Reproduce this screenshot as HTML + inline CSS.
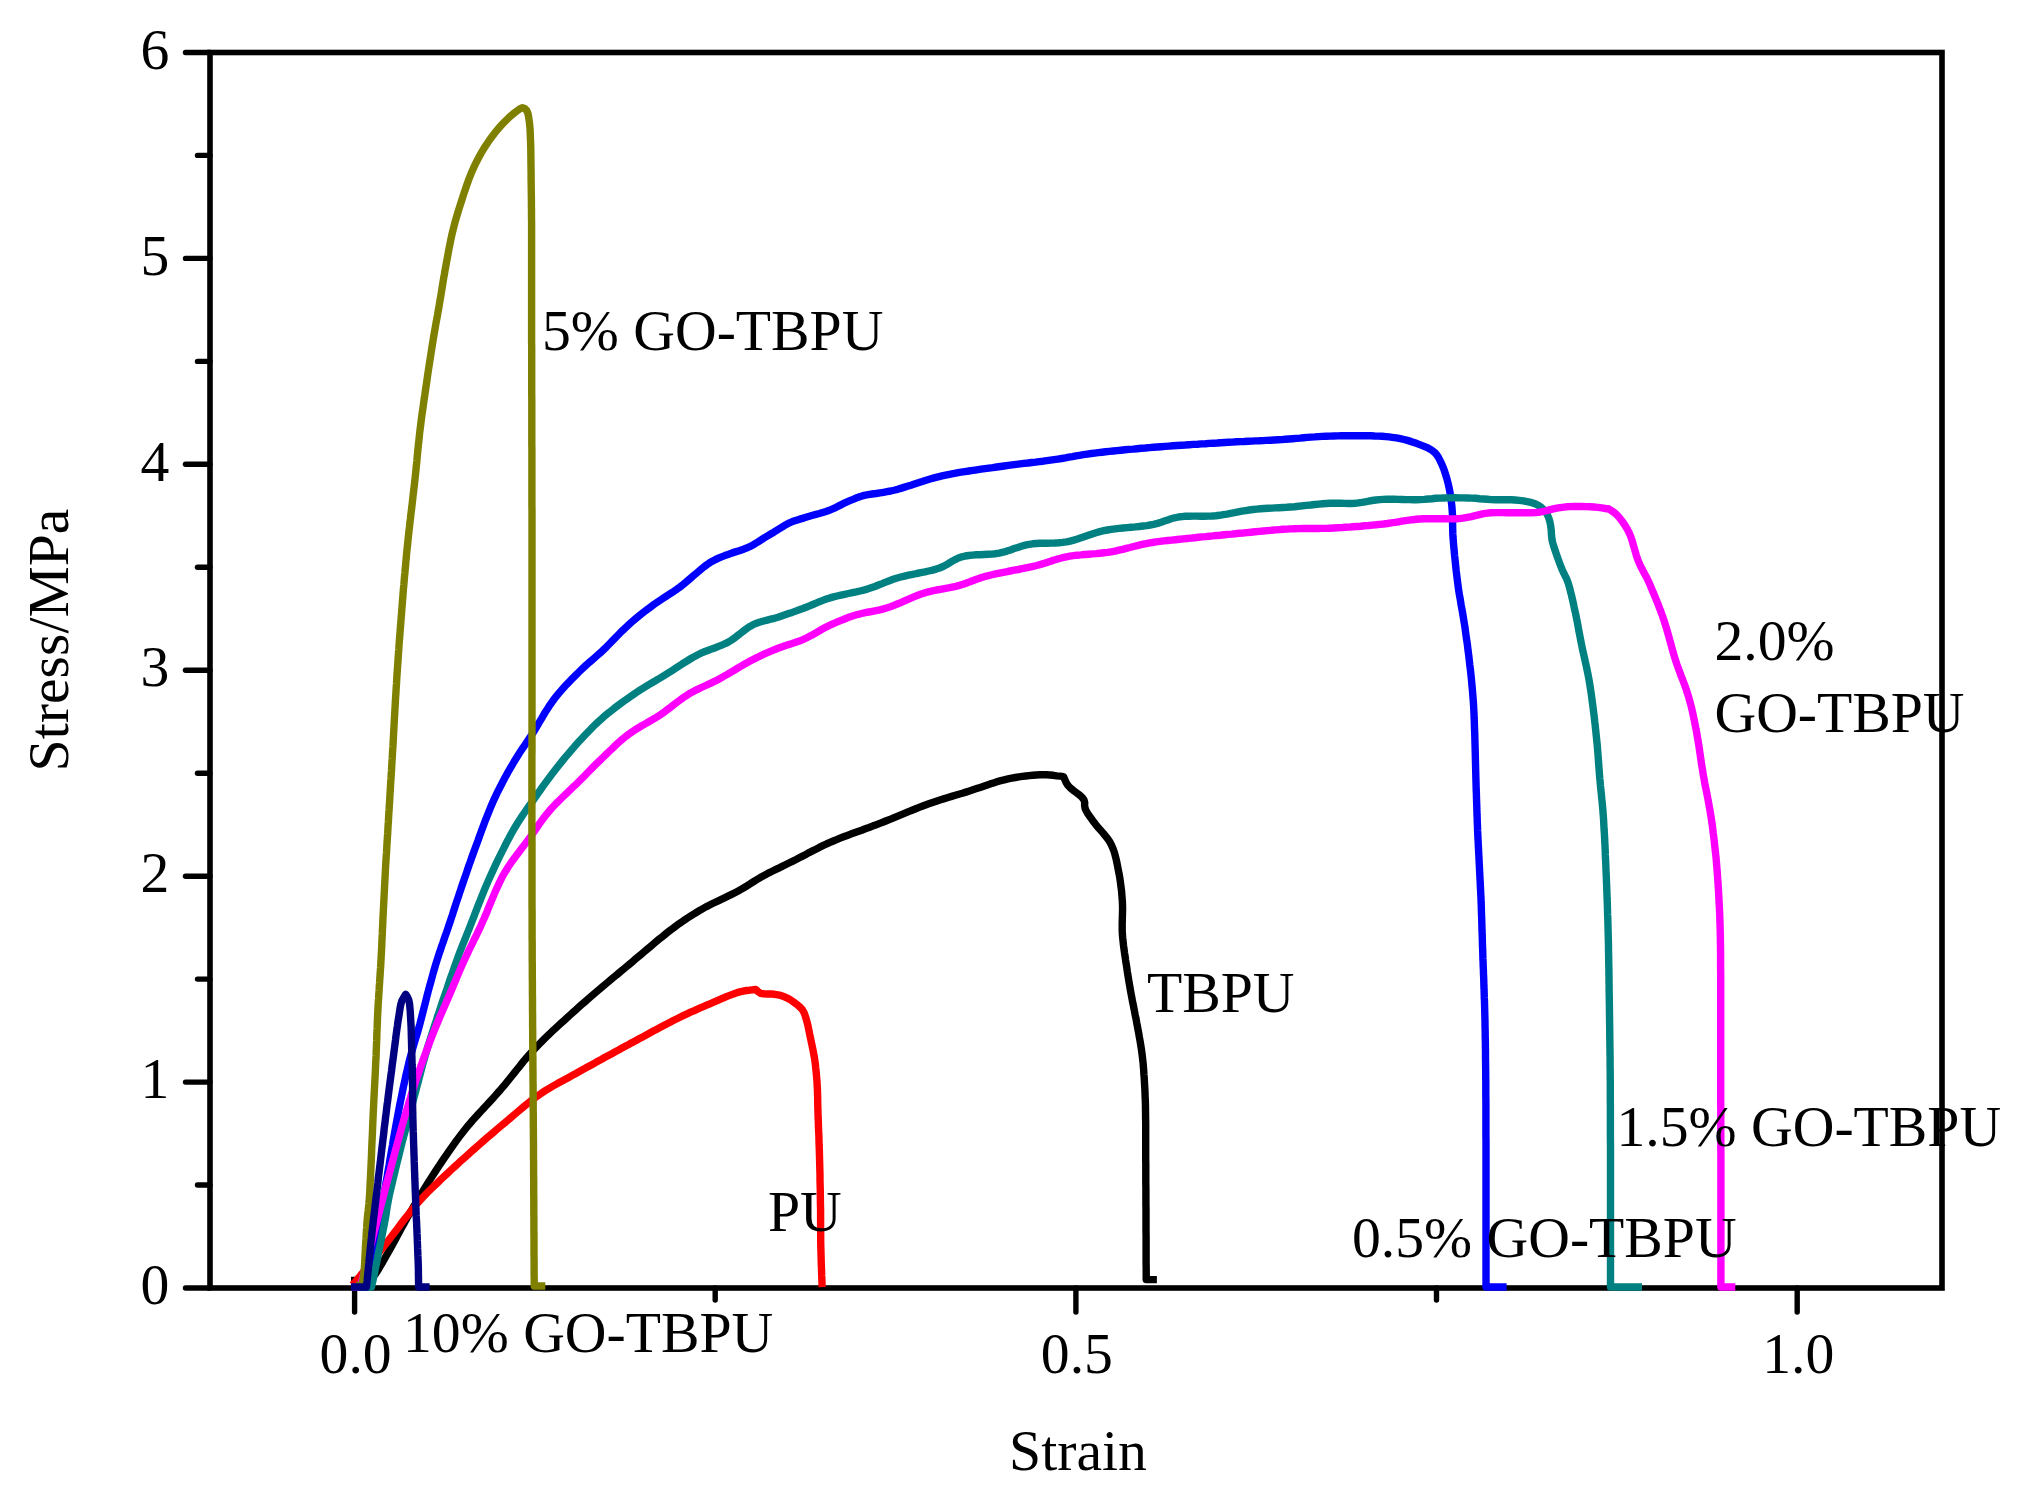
<!DOCTYPE html>
<html><head><meta charset="utf-8"><title>Stress-Strain</title>
<style>
html,body{margin:0;padding:0;background:#fff;}
body{width:2024px;height:1507px;overflow:hidden;}
svg{display:block;}
svg text{font-family:"Liberation Serif",serif;font-size:57.7px;fill:#000;}
</style></head><body>
<svg width="2024" height="1507" viewBox="0 0 2024 1507">
<rect width="2024" height="1507" fill="#fff"/>
<g fill="none" stroke="#000" stroke-width="5.4" stroke-linecap="round">
<line x1="185.5" y1="1288.0" x2="210.0" y2="1288.0"/>
<line x1="185.5" y1="1082.1" x2="210.0" y2="1082.1"/>
<line x1="185.5" y1="876.2" x2="210.0" y2="876.2"/>
<line x1="185.5" y1="670.2" x2="210.0" y2="670.2"/>
<line x1="185.5" y1="464.3" x2="210.0" y2="464.3"/>
<line x1="185.5" y1="258.4" x2="210.0" y2="258.4"/>
<line x1="185.5" y1="52.5" x2="210.0" y2="52.5"/>
<line x1="197.5" y1="1185.0" x2="210.0" y2="1185.0"/>
<line x1="197.5" y1="979.1" x2="210.0" y2="979.1"/>
<line x1="197.5" y1="773.2" x2="210.0" y2="773.2"/>
<line x1="197.5" y1="567.3" x2="210.0" y2="567.3"/>
<line x1="197.5" y1="361.4" x2="210.0" y2="361.4"/>
<line x1="197.5" y1="155.4" x2="210.0" y2="155.4"/>
<line x1="354.6" y1="1288.0" x2="354.6" y2="1312.0"/>
<line x1="1075.9" y1="1288.0" x2="1075.9" y2="1312.0"/>
<line x1="1797.2" y1="1288.0" x2="1797.2" y2="1312.0"/>
<line x1="715.2" y1="1288.0" x2="715.2" y2="1300.0"/>
<line x1="1436.5" y1="1288.0" x2="1436.5" y2="1300.0"/>
</g>
<rect x="210.0" y="52.5" width="1732.0" height="1235.5" fill="none" stroke="#000" stroke-width="5.6"/>
<g fill="none" stroke-width="7.4" stroke-linejoin="round" stroke-linecap="butt">
<path d="M351.0 1280.5 L370.0 1280.5 L371.9 1278.3 L373.8 1276.1 L376.1 1273.0 L377.4 1271.0 L379.0 1268.4 L380.7 1265.5 L382.6 1262.3 L384.6 1258.7 L386.7 1255.0 L388.9 1251.1 L391.1 1247.1 L393.3 1243.1 L395.5 1239.1 L397.6 1235.3 L399.6 1231.6 L401.4 1228.1 L403.2 1225.0 L404.7 1222.2 L406.0 1219.9 L407.8 1216.6 L409.3 1214.1 L410.7 1211.6 L412.5 1208.5 L414.0 1206.0 L415.7 1203.2 L417.5 1200.1 L419.5 1196.8 L421.6 1193.3 L423.8 1189.7 L426.1 1186.0 L428.4 1182.3 L430.7 1178.6 L433.1 1174.9 L435.4 1171.4 L437.6 1168.0 L439.8 1164.7 L442.0 1161.4 L444.2 1158.1 L446.5 1154.8 L448.7 1151.6 L451.0 1148.3 L453.3 1145.1 L455.6 1141.8 L458.0 1138.6 L460.4 1135.4 L462.9 1132.2 L465.4 1129.0 L467.7 1126.2 L470.1 1123.3 L472.5 1120.5 L475.0 1117.8 L477.5 1115.0 L480.0 1112.2 L482.6 1109.5 L485.1 1106.7 L487.7 1104.0 L490.2 1101.2 L492.8 1098.4 L495.3 1095.6 L497.8 1092.8 L500.3 1090.0 L502.7 1087.1 L505.1 1084.3 L507.5 1081.4 L509.8 1078.5 L512.2 1075.5 L514.5 1072.6 L516.8 1069.7 L519.2 1066.8 L521.5 1063.9 L523.9 1060.9 L526.4 1058.0 L528.9 1055.1 L531.5 1052.3 L534.1 1049.4 L536.7 1046.7 L539.3 1044.0 L541.9 1041.4 L544.6 1038.7 L547.3 1036.0 L550.1 1033.4 L552.9 1030.7 L555.7 1028.1 L558.6 1025.4 L561.5 1022.8 L564.4 1020.2 L567.3 1017.6 L570.2 1014.9 L573.1 1012.3 L576.0 1009.7 L578.9 1007.1 L581.7 1004.6 L584.6 1002.1 L587.5 999.5 L590.4 997.0 L593.3 994.5 L596.2 992.0 L599.2 989.5 L602.1 987.0 L605.1 984.5 L608.1 982.0 L611.0 979.5 L614.0 977.0 L617.0 974.6 L619.9 972.1 L622.9 969.7 L625.8 967.2 L628.7 964.8 L631.7 962.3 L634.7 959.7 L637.8 957.2 L640.9 954.6 L643.9 952.0 L647.0 949.4 L650.1 946.8 L653.1 944.2 L656.1 941.7 L659.1 939.2 L662.1 936.8 L665.0 934.5 L667.8 932.2 L670.6 930.0 L673.4 928.0 L676.0 926.0 L679.3 923.6 L682.4 921.5 L685.4 919.4 L688.3 917.5 L691.2 915.6 L694.1 913.8 L697.1 912.0 L700.1 910.2 L703.3 908.4 L706.6 906.6 L710.1 904.8 L713.6 903.0 L717.2 901.3 L720.8 899.6 L724.5 897.9 L728.0 896.2 L731.6 894.4 L734.9 892.7 L738.2 891.0 L741.5 889.1 L744.7 887.2 L747.8 885.3 L750.8 883.4 L753.8 881.5 L756.8 879.7 L759.9 877.8 L763.1 876.0 L766.3 874.3 L769.4 872.6 L772.7 871.0 L775.9 869.4 L779.3 867.8 L782.6 866.2 L786.0 864.5 L789.4 862.8 L792.9 861.1 L796.1 859.5 L799.3 857.8 L802.6 856.1 L805.8 854.4 L809.1 852.6 L812.5 850.9 L815.9 849.2 L819.3 847.4 L822.8 845.7 L826.4 844.0 L830.0 842.4 L833.3 841.0 L836.7 839.6 L840.1 838.2 L843.6 836.8 L847.2 835.5 L850.8 834.1 L854.4 832.8 L858.0 831.5 L861.7 830.2 L865.3 828.8 L869.0 827.5 L872.6 826.1 L876.2 824.8 L879.8 823.4 L883.4 822.0 L887.0 820.5 L890.6 819.1 L894.2 817.6 L897.8 816.1 L901.4 814.6 L905.0 813.1 L908.5 811.6 L912.1 810.2 L915.7 808.8 L919.2 807.4 L922.7 806.0 L926.1 804.7 L929.5 803.5 L933.3 802.2 L937.0 800.9 L940.7 799.7 L944.4 798.6 L948.0 797.5 L951.7 796.4 L955.3 795.3 L958.8 794.2 L962.4 793.2 L965.9 792.1 L969.4 791.0 L973.0 789.8 L976.6 788.6 L980.2 787.4 L983.7 786.2 L987.3 785.0 L990.8 783.8 L994.2 782.7 L997.6 781.6 L1000.9 780.6 L1004.2 779.8 L1008.0 778.9 L1011.7 778.2 L1015.4 777.5 L1018.9 776.9 L1022.4 776.4 L1025.8 776.0 L1029.1 775.6 L1032.8 775.2 L1036.3 775.0 L1039.7 774.8 L1043.1 774.8 L1046.5 774.8 L1049.9 775.0 L1053.3 775.3 L1056.7 775.8 L1060.1 776.2 L1063.5 776.6 L1064.8 779.5 L1066.1 782.5 L1068.0 785.5 L1070.2 787.8 L1073.1 790.2 L1076.3 792.6 L1079.5 795.0 L1082.1 797.4 L1083.9 799.7 L1084.7 802.6 L1084.6 805.4 L1085.1 808.4 L1086.3 811.0 L1087.8 813.6 L1089.7 816.3 L1091.7 819.1 L1093.8 822.1 L1095.7 824.6 L1097.9 827.2 L1100.3 829.9 L1102.7 832.7 L1105.1 835.5 L1107.4 838.4 L1109.5 841.4 L1111.2 844.5 L1112.6 847.7 L1113.9 851.0 L1114.9 854.3 L1115.8 857.8 L1116.6 861.3 L1117.3 864.8 L1118.0 868.4 L1118.7 871.9 L1119.4 875.5 L1120.0 879.2 L1120.5 882.9 L1121.0 886.7 L1121.5 890.4 L1121.8 894.2 L1122.1 898.0 L1122.4 901.8 L1122.5 905.3 L1122.6 908.9 L1122.5 912.5 L1122.4 916.1 L1122.3 919.8 L1122.2 923.4 L1122.2 927.0 L1122.2 930.6 L1122.4 934.1 L1122.7 937.9 L1123.1 941.7 L1123.5 945.4 L1124.0 949.1 L1124.5 952.8 L1125.1 956.6 L1125.6 960.3 L1126.2 964.0 L1126.8 967.7 L1127.3 971.5 L1127.9 975.2 L1128.5 978.9 L1129.1 982.6 L1129.8 986.4 L1130.4 990.1 L1131.1 993.9 L1131.8 997.4 L1132.4 1001.0 L1133.2 1004.6 L1133.9 1008.2 L1134.6 1011.9 L1135.3 1015.5 L1136.1 1019.1 L1136.7 1022.7 L1137.4 1026.2 L1138.1 1030.0 L1138.8 1033.7 L1139.4 1037.4 L1140.1 1041.1 L1140.7 1044.8 L1141.3 1048.6 L1141.8 1052.3 L1142.3 1056.1 L1142.7 1059.6 L1143.1 1063.2 L1143.4 1066.9 L1143.7 1070.5 L1143.9 1074.2 L1144.2 1077.8 L1144.4 1081.4 L1144.6 1084.9 L1144.8 1088.4 L1145.0 1092.3 L1145.1 1096.1 L1145.3 1099.8 L1145.4 1103.5 L1145.5 1107.2 L1145.5 1111.0 L1145.6 1115.0 L1145.6 1118.6 L1145.7 1122.2 L1145.7 1125.8 L1145.7 1129.4 L1145.7 1133.2 L1145.7 1137.1 L1145.7 1141.1 L1145.7 1145.3 L1145.7 1149.7 L1145.7 1153.0 L1145.7 1156.5 L1145.7 1160.1 L1145.8 1163.8 L1145.8 1167.6 L1145.8 1171.5 L1145.8 1175.5 L1145.8 1179.6 L1145.8 1183.7 L1145.9 1187.8 L1145.9 1191.9 L1145.9 1196.1 L1145.9 1200.2 L1145.9 1204.3 L1146.0 1208.3 L1146.0 1212.3 L1146.0 1216.2 L1146.0 1220.0 L1146.0 1224.1 L1146.0 1228.2 L1146.0 1232.2 L1146.1 1236.2 L1146.1 1240.2 L1146.1 1244.2 L1146.1 1248.1 L1146.1 1252.1 L1146.1 1256.0 L1146.1 1259.9 L1146.1 1263.8 L1146.2 1267.8 L1146.2 1271.7 L1146.2 1275.6 L1146.2 1279.6 L1156.9 1279.6" stroke="#000000"/>
<path d="M352.5 1285.0 L354.8 1282.3 L357.1 1279.7 L359.9 1276.3 L361.6 1274.2 L363.6 1271.7 L365.9 1268.9 L368.3 1265.9 L370.8 1262.7 L373.5 1259.4 L376.2 1256.0 L378.9 1252.6 L381.6 1249.2 L384.2 1245.9 L386.7 1242.7 L389.0 1239.7 L391.1 1237.0 L393.7 1233.6 L396.2 1230.4 L398.5 1227.3 L400.7 1224.3 L402.9 1221.3 L405.2 1218.4 L407.5 1215.5 L409.7 1212.8 L411.8 1210.1 L413.9 1207.5 L416.0 1204.9 L418.3 1202.3 L420.8 1199.5 L423.6 1196.5 L425.8 1194.2 L428.1 1191.8 L430.6 1189.4 L433.2 1186.8 L436.0 1184.2 L438.8 1181.5 L441.7 1178.7 L444.6 1176.0 L447.6 1173.2 L450.6 1170.4 L453.6 1167.6 L456.7 1164.9 L459.6 1162.1 L462.5 1159.5 L465.4 1156.9 L468.4 1154.2 L471.4 1151.5 L474.4 1148.9 L477.4 1146.2 L480.5 1143.5 L483.5 1140.9 L486.5 1138.2 L489.6 1135.6 L492.6 1133.1 L495.6 1130.5 L498.5 1128.0 L501.5 1125.5 L504.4 1123.1 L507.2 1120.7 L510.3 1118.1 L513.3 1115.5 L516.3 1113.0 L519.2 1110.5 L522.1 1108.1 L525.0 1105.7 L527.9 1103.3 L530.8 1101.0 L533.8 1098.7 L536.8 1096.4 L540.0 1094.2 L543.0 1092.2 L546.1 1090.2 L549.2 1088.3 L552.4 1086.4 L555.6 1084.6 L558.8 1082.8 L562.1 1081.0 L565.4 1079.2 L568.7 1077.4 L572.1 1075.6 L575.5 1073.7 L578.9 1071.8 L582.0 1070.0 L585.2 1068.3 L588.4 1066.5 L591.7 1064.7 L595.0 1062.9 L598.3 1061.0 L601.7 1059.2 L605.0 1057.3 L608.4 1055.5 L611.8 1053.7 L615.2 1051.8 L618.6 1050.0 L622.0 1048.1 L625.3 1046.3 L628.7 1044.5 L632.1 1042.6 L635.6 1040.8 L639.1 1038.8 L642.7 1036.9 L646.2 1035.0 L649.8 1033.0 L653.3 1031.1 L656.9 1029.2 L660.4 1027.3 L663.8 1025.5 L667.2 1023.7 L670.6 1022.0 L673.8 1020.3 L677.0 1018.7 L680.0 1017.2 L683.6 1015.4 L687.1 1013.8 L690.5 1012.2 L693.8 1010.8 L697.0 1009.3 L700.2 1007.9 L703.4 1006.6 L706.6 1005.2 L709.9 1003.8 L713.2 1002.4 L716.7 1000.9 L720.1 999.4 L723.6 997.9 L727.0 996.4 L730.4 995.1 L733.6 993.9 L736.8 992.8 L739.7 991.9 L743.2 991.1 L746.4 990.5 L749.5 990.2 L752.6 989.8 L755.7 989.4 L757.9 991.5 L760.6 993.3 L763.6 993.9 L767.3 994.0 L771.1 994.0 L774.6 994.3 L778.1 994.9 L781.4 995.7 L784.5 996.8 L787.3 998.1 L789.9 999.5 L792.5 1001.3 L795.1 1003.1 L797.8 1005.2 L800.3 1007.4 L802.4 1009.8 L804.1 1012.8 L805.3 1016.1 L806.4 1019.7 L807.3 1022.9 L808.1 1026.4 L808.9 1030.2 L809.6 1033.9 L810.4 1037.7 L811.1 1041.0 L811.8 1044.3 L812.5 1047.7 L813.2 1051.0 L813.8 1054.4 L814.4 1057.6 L814.9 1061.1 L815.4 1064.5 L815.7 1067.9 L816.1 1071.2 L816.4 1074.5 L816.7 1078.2 L817.0 1081.9 L817.2 1085.5 L817.4 1089.4 L817.5 1092.6 L817.6 1095.7 L817.7 1099.0 L817.7 1102.5 L817.8 1106.1 L817.9 1110.0 L818.0 1113.3 L818.1 1116.8 L818.3 1120.5 L818.4 1124.3 L818.5 1128.3 L818.7 1132.3 L818.9 1136.4 L819.0 1140.6 L819.1 1144.8 L819.3 1149.0 L819.4 1153.1 L819.5 1156.7 L819.6 1160.5 L819.7 1164.2 L819.8 1168.1 L819.9 1172.0 L820.0 1175.9 L820.0 1179.8 L820.1 1183.7 L820.2 1187.6 L820.3 1191.4 L820.3 1195.2 L820.4 1199.0 L820.4 1202.6 L820.5 1206.2 L820.6 1210.4 L820.6 1214.5 L820.6 1218.5 L820.6 1222.5 L820.6 1226.4 L820.6 1230.3 L820.7 1234.2 L820.7 1238.1 L820.7 1242.0 L820.8 1246.0 L820.9 1249.7 L821.0 1253.4 L821.1 1257.2 L821.2 1260.9 L821.3 1264.6 L821.5 1268.4 L821.6 1272.1 L821.7 1275.9 L821.9 1279.6 L822.0 1283.4 L822.1 1287.1" stroke="#ff0000"/>
<path d="M351.0 1287.0 L367.0 1287.0 L367.7 1283.1 L368.5 1279.2 L369.2 1275.4 L370.0 1271.5 L370.7 1267.7 L371.5 1263.9 L372.2 1260.0 L373.0 1256.1 L373.7 1252.2 L374.5 1248.2 L375.2 1244.1 L376.0 1240.0 L376.6 1236.5 L377.3 1232.9 L377.9 1229.3 L378.6 1225.6 L379.2 1222.0 L379.9 1218.2 L380.5 1214.5 L381.2 1210.8 L381.8 1207.0 L382.5 1203.2 L383.1 1199.3 L383.8 1195.5 L384.5 1191.6 L385.1 1187.8 L385.8 1183.9 L386.5 1180.0 L387.2 1176.2 L387.8 1172.4 L388.5 1168.5 L389.2 1164.6 L389.8 1160.6 L390.5 1156.6 L391.2 1152.6 L391.9 1148.6 L392.6 1144.6 L393.2 1140.6 L393.9 1136.6 L394.6 1132.7 L395.3 1128.8 L396.0 1124.9 L396.7 1121.1 L397.4 1117.3 L398.1 1113.6 L398.8 1110.0 L399.6 1105.8 L400.4 1101.7 L401.3 1097.6 L402.1 1093.5 L402.9 1089.5 L403.7 1085.6 L404.6 1081.7 L405.4 1077.8 L406.2 1074.0 L407.1 1070.3 L408.0 1066.6 L408.8 1063.0 L409.7 1059.5 L410.7 1055.7 L411.7 1052.1 L412.7 1048.6 L413.7 1045.1 L414.7 1041.7 L415.7 1038.3 L416.8 1034.9 L417.8 1031.6 L418.7 1028.2 L419.7 1024.7 L420.7 1020.8 L421.7 1016.9 L422.7 1013.0 L423.7 1009.1 L424.7 1005.2 L425.7 1001.3 L426.6 997.5 L427.6 993.6 L428.6 989.9 L429.6 986.1 L430.7 982.3 L431.7 978.6 L432.7 974.9 L433.7 971.3 L434.8 967.6 L435.9 963.8 L437.1 960.0 L438.2 956.6 L439.3 953.2 L440.5 949.7 L441.6 946.3 L442.9 942.8 L444.1 939.3 L445.3 935.7 L446.6 932.2 L447.8 928.6 L449.0 925.0 L450.2 921.5 L451.3 918.1 L452.5 914.6 L453.6 911.0 L454.8 907.5 L455.9 903.9 L457.1 900.4 L458.3 896.8 L459.5 893.2 L460.7 889.6 L461.9 886.0 L463.1 882.5 L464.3 879.1 L465.5 875.6 L466.7 872.1 L467.9 868.5 L469.1 865.0 L470.4 861.5 L471.6 857.9 L472.9 854.4 L474.2 850.8 L475.5 847.3 L476.8 843.7 L478.1 840.3 L479.3 836.8 L480.6 833.3 L481.9 829.8 L483.2 826.3 L484.5 822.8 L485.8 819.3 L487.2 815.8 L488.6 812.3 L490.0 808.9 L491.4 805.5 L492.8 802.2 L494.3 798.9 L496.0 795.3 L497.7 791.7 L499.5 788.2 L501.3 784.7 L503.1 781.2 L504.9 777.8 L506.8 774.4 L508.6 771.1 L510.5 767.8 L512.4 764.6 L514.2 761.5 L516.2 758.3 L518.1 755.2 L520.1 752.1 L522.0 749.2 L524.0 746.3 L526.0 743.4 L528.0 740.4 L530.0 737.4 L532.1 734.2 L534.0 731.2 L535.9 728.0 L537.8 724.8 L539.7 721.6 L541.7 718.3 L543.6 715.0 L545.6 711.7 L547.7 708.5 L549.7 705.3 L551.8 702.3 L554.0 699.3 L556.3 696.3 L558.7 693.4 L561.1 690.6 L563.6 687.8 L566.1 685.1 L568.7 682.4 L571.2 679.7 L573.8 677.1 L576.3 674.6 L578.9 672.0 L581.6 669.4 L584.4 666.8 L587.1 664.3 L589.9 661.9 L592.7 659.4 L595.5 657.0 L598.3 654.5 L601.1 652.1 L603.8 649.5 L606.6 646.8 L609.3 644.0 L612.1 641.2 L614.8 638.4 L617.6 635.5 L620.3 632.7 L623.1 630.0 L625.9 627.3 L628.7 624.7 L631.7 622.0 L634.8 619.4 L637.8 616.9 L640.9 614.4 L644.0 611.9 L647.2 609.5 L650.3 607.2 L653.5 604.8 L656.8 602.5 L660.2 600.2 L663.7 597.9 L667.2 595.6 L670.6 593.4 L673.9 591.3 L677.1 589.1 L680.0 587.0 L683.3 584.4 L686.3 581.9 L689.2 579.4 L692.0 576.9 L694.9 574.5 L697.9 572.0 L700.8 569.5 L703.8 567.0 L706.8 564.7 L709.9 562.6 L712.8 561.0 L715.6 559.5 L718.5 558.2 L721.5 556.9 L724.8 555.6 L728.1 554.4 L731.6 553.1 L735.4 551.9 L739.2 550.7 L742.9 549.4 L746.5 548.1 L749.7 546.7 L753.0 545.0 L756.0 543.2 L758.9 541.4 L761.7 539.5 L764.6 537.7 L767.6 535.9 L770.7 534.0 L773.8 532.2 L776.7 530.4 L779.5 528.7 L782.8 526.6 L785.9 524.7 L789.5 522.8 L792.4 521.6 L795.6 520.5 L799.0 519.4 L802.5 518.4 L806.0 517.3 L809.4 516.3 L812.7 515.3 L816.0 514.4 L819.4 513.5 L822.7 512.5 L826.0 511.5 L829.3 510.3 L832.7 508.9 L836.1 507.3 L839.4 505.6 L842.8 503.9 L846.0 502.3 L849.2 500.9 L853.1 499.3 L856.8 497.8 L860.4 496.5 L864.2 495.4 L868.1 494.6 L872.1 494.0 L876.1 493.5 L880.0 492.9 L883.6 492.3 L887.0 491.7 L890.7 491.0 L895.0 490.0 L897.7 489.3 L900.7 488.4 L903.9 487.4 L907.3 486.3 L910.9 485.2 L914.5 484.0 L918.3 482.7 L922.2 481.5 L926.1 480.2 L930.1 479.0 L934.1 477.9 L938.1 476.9 L942.0 475.9 L945.6 475.1 L949.4 474.3 L953.2 473.6 L957.0 472.9 L961.0 472.2 L964.9 471.6 L968.9 471.0 L972.9 470.4 L976.9 469.8 L981.0 469.2 L984.9 468.7 L988.9 468.1 L992.8 467.6 L996.7 467.0 L1000.5 466.5 L1004.2 466.0 L1008.2 465.4 L1012.2 464.9 L1016.2 464.4 L1020.2 463.9 L1024.1 463.4 L1028.0 463.0 L1031.8 462.5 L1035.6 462.1 L1039.4 461.6 L1043.1 461.2 L1046.8 460.7 L1050.4 460.2 L1054.0 459.7 L1057.9 459.1 L1061.7 458.5 L1065.3 457.9 L1068.9 457.2 L1072.4 456.6 L1075.9 455.9 L1079.6 455.3 L1083.3 454.7 L1087.2 454.1 L1091.3 453.5 L1094.7 453.1 L1098.3 452.6 L1101.9 452.2 L1105.6 451.8 L1109.4 451.4 L1113.2 451.0 L1117.1 450.6 L1121.0 450.2 L1125.0 449.8 L1129.0 449.4 L1133.1 449.1 L1137.2 448.7 L1141.3 448.3 L1145.3 448.0 L1149.4 447.6 L1153.5 447.3 L1157.3 447.0 L1161.1 446.7 L1165.1 446.4 L1169.0 446.1 L1173.0 445.8 L1177.1 445.5 L1181.2 445.2 L1185.2 445.0 L1189.3 444.7 L1193.4 444.4 L1197.5 444.2 L1201.5 443.9 L1205.5 443.7 L1209.4 443.4 L1213.3 443.2 L1217.2 443.0 L1220.9 442.7 L1224.6 442.5 L1228.2 442.3 L1232.4 442.1 L1236.4 441.8 L1240.4 441.6 L1244.2 441.5 L1248.0 441.3 L1251.8 441.1 L1255.5 440.9 L1259.2 440.8 L1262.9 440.6 L1266.6 440.4 L1270.4 440.2 L1274.2 440.0 L1278.0 439.8 L1281.7 439.6 L1285.3 439.3 L1289.0 439.0 L1292.6 438.7 L1296.3 438.4 L1300.0 438.1 L1303.6 437.7 L1307.3 437.4 L1311.0 437.1 L1314.8 436.9 L1318.5 436.6 L1322.3 436.4 L1326.1 436.2 L1330.0 436.1 L1333.8 436.0 L1337.7 435.9 L1341.7 435.8 L1345.8 435.8 L1350.0 435.7 L1354.2 435.7 L1358.4 435.7 L1362.5 435.7 L1366.7 435.8 L1370.7 435.8 L1374.7 436.0 L1378.5 436.1 L1382.2 436.3 L1385.8 436.6 L1389.1 436.9 L1392.2 437.3 L1396.4 437.9 L1400.3 438.7 L1404.0 439.5 L1407.4 440.4 L1410.7 441.4 L1413.9 442.5 L1417.1 443.6 L1421.0 445.1 L1424.8 446.6 L1428.4 448.2 L1431.7 450.1 L1434.5 452.3 L1436.9 455.0 L1438.8 458.0 L1440.4 461.3 L1442.0 464.7 L1443.4 467.9 L1444.6 471.3 L1445.7 474.9 L1446.8 478.4 L1447.7 481.9 L1448.5 485.1 L1449.2 488.2 L1449.8 491.4 L1450.3 494.5 L1450.8 497.7 L1451.3 501.6 L1451.8 505.5 L1452.1 509.4 L1452.4 513.5 L1452.6 517.3 L1452.6 521.3 L1452.6 525.4 L1452.7 529.4 L1452.8 533.2 L1453.0 537.1 L1453.3 540.8 L1453.6 544.7 L1454.0 549.1 L1454.3 552.2 L1454.6 555.6 L1455.0 559.2 L1455.4 563.0 L1455.8 566.9 L1456.2 570.9 L1456.7 574.9 L1457.2 578.9 L1457.7 582.9 L1458.2 586.7 L1458.7 590.4 L1459.3 594.2 L1460.0 597.9 L1460.6 601.6 L1461.2 605.4 L1461.9 609.1 L1462.6 612.8 L1463.2 616.5 L1463.8 620.3 L1464.4 624.0 L1465.0 627.7 L1465.5 631.5 L1466.0 635.2 L1466.5 638.9 L1467.1 642.6 L1467.6 646.4 L1468.0 650.1 L1468.5 653.8 L1469.0 657.6 L1469.4 661.3 L1469.8 665.0 L1470.3 668.8 L1470.7 672.5 L1471.1 676.2 L1471.5 680.0 L1471.8 683.7 L1472.2 687.5 L1472.5 691.2 L1472.8 695.0 L1473.1 698.7 L1473.4 702.4 L1473.6 706.1 L1473.8 709.9 L1474.0 713.6 L1474.1 717.3 L1474.3 721.0 L1474.4 724.7 L1474.5 728.5 L1474.7 732.2 L1474.8 736.0 L1474.9 739.8 L1475.0 743.6 L1475.1 747.4 L1475.2 751.1 L1475.3 754.9 L1475.4 758.8 L1475.5 762.7 L1475.6 766.7 L1475.7 770.8 L1475.8 775.0 L1475.9 778.6 L1476.0 782.3 L1476.1 786.1 L1476.2 790.0 L1476.4 794.0 L1476.5 798.0 L1476.6 802.0 L1476.8 806.1 L1476.9 810.2 L1477.0 814.3 L1477.2 818.4 L1477.3 822.6 L1477.5 826.6 L1477.6 830.7 L1477.8 834.7 L1478.0 838.7 L1478.2 842.7 L1478.4 846.7 L1478.6 850.6 L1478.8 854.6 L1479.0 858.6 L1479.2 862.6 L1479.4 866.6 L1479.6 870.6 L1479.8 874.6 L1480.0 878.6 L1480.2 882.5 L1480.4 886.5 L1480.6 890.5 L1480.8 894.5 L1481.0 898.5 L1481.1 902.5 L1481.3 906.4 L1481.4 910.4 L1481.5 914.4 L1481.7 918.4 L1481.8 922.4 L1481.9 926.3 L1482.0 930.3 L1482.2 934.3 L1482.3 938.3 L1482.4 942.3 L1482.5 946.2 L1482.7 950.2 L1482.8 954.2 L1482.9 958.2 L1483.1 962.2 L1483.2 966.1 L1483.4 970.1 L1483.5 974.1 L1483.7 978.0 L1483.8 982.0 L1483.9 986.0 L1484.1 990.0 L1484.2 993.9 L1484.3 997.9 L1484.5 1001.9 L1484.6 1005.9 L1484.7 1009.9 L1484.8 1013.9 L1484.9 1017.7 L1485.0 1021.4 L1485.0 1025.1 L1485.1 1028.7 L1485.2 1032.4 L1485.2 1036.0 L1485.3 1039.7 L1485.4 1043.4 L1485.4 1047.1 L1485.5 1050.9 L1485.5 1054.7 L1485.5 1058.6 L1485.6 1062.5 L1485.6 1066.6 L1485.7 1070.7 L1485.7 1075.0 L1485.7 1078.4 L1485.8 1081.9 L1485.8 1085.4 L1485.8 1089.0 L1485.8 1092.7 L1485.8 1096.4 L1485.9 1100.2 L1485.9 1104.0 L1485.9 1107.9 L1485.9 1111.8 L1485.9 1115.7 L1485.9 1119.7 L1485.9 1123.7 L1485.9 1127.7 L1485.9 1131.7 L1485.9 1135.8 L1486.0 1139.8 L1486.0 1143.9 L1486.0 1147.9 L1486.0 1152.0 L1486.0 1156.1 L1486.0 1160.1 L1486.0 1164.1 L1486.0 1168.1 L1486.0 1172.1 L1486.0 1176.1 L1486.0 1180.0 L1486.0 1183.9 L1486.0 1187.9 L1486.0 1191.8 L1486.0 1195.8 L1486.0 1199.8 L1486.0 1203.7 L1486.0 1207.7 L1486.0 1211.6 L1486.0 1215.6 L1486.0 1219.6 L1486.0 1223.5 L1486.0 1227.5 L1486.0 1231.5 L1486.0 1235.4 L1486.0 1239.4 L1486.0 1243.4 L1486.0 1247.3 L1486.0 1251.3 L1486.0 1255.3 L1486.0 1259.2 L1486.0 1263.2 L1486.0 1267.2 L1486.0 1271.1 L1486.0 1275.1 L1486.0 1279.1 L1486.0 1283.0 L1486.0 1287.0 L1506.6 1287.0" stroke="#0000ff"/>
<path d="M351.0 1287.0 L371.5 1287.0 L372.2 1283.6 L373.0 1280.3 L373.7 1276.8 L374.5 1273.0 L375.2 1269.6 L375.9 1266.0 L376.7 1262.2 L377.5 1258.2 L378.2 1254.2 L379.0 1250.3 L379.8 1246.4 L380.6 1242.6 L381.4 1238.7 L382.2 1234.8 L382.9 1231.0 L383.7 1227.2 L384.4 1223.5 L385.1 1219.9 L385.7 1216.5 L386.2 1213.4 L386.6 1210.4 L387.1 1207.2 L387.7 1203.8 L388.4 1200.0 L389.0 1196.9 L389.7 1193.6 L390.5 1190.1 L391.4 1186.4 L392.3 1182.6 L393.2 1178.6 L394.2 1174.5 L395.2 1170.4 L396.2 1166.2 L397.2 1162.0 L398.3 1157.8 L399.3 1153.7 L400.3 1149.7 L401.3 1145.7 L402.2 1142.0 L403.2 1138.2 L404.2 1134.5 L405.2 1130.7 L406.2 1126.8 L407.2 1123.0 L408.2 1119.2 L409.2 1115.4 L410.2 1111.7 L411.2 1107.9 L412.2 1104.2 L413.2 1100.6 L414.1 1097.0 L415.1 1093.5 L416.0 1090.0 L417.0 1086.1 L418.0 1082.5 L418.9 1078.9 L419.8 1075.5 L420.7 1072.1 L421.6 1068.6 L422.5 1065.1 L423.5 1061.6 L424.6 1057.8 L425.7 1053.8 L427.0 1049.6 L427.9 1046.5 L429.0 1043.2 L430.0 1039.8 L431.2 1036.2 L432.4 1032.5 L433.6 1028.7 L434.9 1024.7 L436.2 1020.8 L437.5 1016.7 L438.9 1012.6 L440.3 1008.5 L441.6 1004.4 L443.0 1000.2 L444.4 996.1 L445.8 992.1 L447.2 988.1 L448.5 984.1 L449.8 980.3 L451.1 976.5 L452.4 972.9 L453.6 969.4 L454.8 966.1 L455.9 963.0 L457.0 960.0 L458.5 955.8 L459.9 952.0 L461.3 948.4 L462.6 945.0 L463.9 941.8 L465.2 938.6 L466.5 935.3 L467.8 932.0 L469.2 928.6 L470.6 925.0 L471.9 921.6 L473.3 918.2 L474.6 914.7 L476.0 911.2 L477.3 907.6 L478.7 904.0 L480.2 900.4 L481.6 896.7 L483.1 893.1 L484.6 889.4 L486.1 885.8 L487.7 882.1 L489.3 878.5 L490.9 874.9 L492.6 871.3 L494.3 867.6 L496.0 863.9 L497.8 860.2 L499.6 856.5 L501.4 852.8 L503.3 849.1 L505.1 845.5 L506.9 841.9 L508.8 838.5 L510.6 835.1 L512.4 831.8 L514.2 828.7 L516.4 825.0 L518.6 821.4 L520.8 818.0 L523.0 814.7 L525.2 811.5 L527.4 808.4 L529.6 805.2 L531.9 802.1 L534.1 798.9 L536.3 795.8 L538.4 792.7 L540.6 789.7 L542.7 786.6 L544.9 783.6 L547.1 780.6 L549.4 777.6 L551.6 774.6 L554.0 771.5 L556.3 768.5 L558.7 765.5 L561.2 762.4 L563.6 759.4 L566.1 756.3 L568.7 753.3 L571.2 750.3 L573.8 747.3 L576.3 744.4 L578.9 741.6 L581.6 738.7 L584.3 735.8 L587.0 733.0 L589.7 730.2 L592.4 727.4 L595.2 724.7 L598.0 722.0 L600.9 719.4 L603.8 716.8 L606.6 714.4 L609.5 712.1 L612.4 709.8 L615.3 707.5 L618.3 705.2 L621.3 703.0 L624.4 700.8 L627.4 698.7 L630.5 696.5 L633.6 694.4 L636.7 692.3 L639.9 690.2 L643.2 688.2 L646.4 686.2 L649.7 684.2 L652.9 682.3 L656.2 680.3 L659.5 678.4 L662.8 676.4 L666.0 674.4 L669.2 672.4 L672.5 670.3 L675.7 668.2 L678.9 666.1 L682.1 664.0 L685.4 662.0 L688.6 660.0 L691.8 658.0 L695.1 656.2 L698.3 654.5 L701.6 652.9 L705.0 651.5 L708.4 650.2 L711.8 648.9 L715.2 647.7 L718.5 646.4 L721.8 645.1 L725.1 643.7 L728.2 642.1 L731.5 640.1 L734.7 637.9 L737.7 635.5 L740.8 633.1 L743.8 630.8 L746.8 628.5 L749.9 626.4 L753.1 624.7 L756.6 623.2 L760.1 622.0 L763.7 621.0 L767.2 620.1 L770.8 619.2 L774.4 618.3 L778.0 617.2 L781.6 616.0 L785.1 614.8 L788.6 613.6 L792.2 612.4 L795.7 611.1 L799.3 609.8 L802.9 608.5 L806.2 607.2 L809.5 605.9 L812.8 604.5 L816.1 603.1 L819.4 601.7 L822.8 600.4 L826.4 599.1 L830.0 597.9 L833.5 596.9 L837.1 596.0 L840.9 595.1 L844.7 594.3 L848.5 593.5 L852.4 592.7 L856.2 591.9 L860.0 591.0 L863.7 590.1 L867.3 589.1 L871.2 587.8 L874.9 586.5 L878.5 585.0 L882.1 583.6 L885.7 582.1 L889.4 580.7 L893.2 579.3 L897.2 578.0 L900.8 577.0 L904.6 576.1 L908.6 575.2 L912.6 574.4 L916.7 573.5 L920.8 572.7 L924.9 571.9 L928.8 571.0 L932.6 570.1 L936.2 569.1 L939.5 568.0 L943.1 566.5 L946.3 564.8 L949.3 563.0 L952.2 561.2 L955.2 559.6 L958.4 558.0 L961.9 556.8 L965.2 556.0 L968.7 555.5 L972.4 555.1 L976.3 554.8 L980.2 554.7 L984.1 554.5 L988.0 554.3 L991.9 554.1 L995.6 553.7 L999.2 553.1 L1003.1 552.2 L1006.9 551.1 L1010.5 549.9 L1014.1 548.6 L1017.8 547.4 L1021.4 546.2 L1025.2 545.1 L1029.1 544.3 L1032.6 543.8 L1036.3 543.5 L1040.0 543.3 L1043.7 543.2 L1047.5 543.2 L1051.3 543.1 L1055.1 543.0 L1058.9 542.8 L1062.7 542.4 L1066.4 541.9 L1070.1 541.1 L1073.8 540.1 L1077.5 539.0 L1081.1 537.8 L1084.8 536.5 L1088.4 535.2 L1092.2 533.9 L1095.9 532.7 L1099.8 531.6 L1103.8 530.7 L1107.4 530.0 L1111.2 529.4 L1115.1 528.9 L1119.1 528.4 L1123.1 528.0 L1127.2 527.6 L1131.3 527.2 L1135.3 526.9 L1139.2 526.5 L1143.1 526.0 L1146.7 525.6 L1150.2 525.0 L1153.5 524.4 L1157.5 523.4 L1161.1 522.3 L1164.5 521.1 L1167.8 519.9 L1171.1 518.8 L1174.6 517.8 L1178.4 517.0 L1181.8 516.6 L1185.4 516.3 L1189.0 516.2 L1192.8 516.1 L1196.6 516.1 L1200.5 516.2 L1204.3 516.2 L1208.2 516.1 L1212.0 516.0 L1215.8 515.7 L1219.5 515.3 L1223.3 514.7 L1227.0 514.1 L1230.7 513.4 L1234.5 512.7 L1238.2 511.9 L1241.9 511.2 L1245.6 510.6 L1249.4 510.0 L1253.1 509.5 L1256.8 509.1 L1260.5 508.8 L1264.2 508.5 L1268.0 508.3 L1271.7 508.1 L1275.4 507.9 L1279.1 507.7 L1282.9 507.5 L1286.6 507.3 L1290.4 507.0 L1294.4 506.7 L1298.4 506.3 L1302.5 505.8 L1306.6 505.4 L1310.7 505.0 L1314.8 504.5 L1318.8 504.1 L1322.6 503.8 L1326.4 503.5 L1330.0 503.3 L1333.9 503.2 L1337.5 503.2 L1341.1 503.3 L1344.5 503.4 L1348.0 503.5 L1351.4 503.5 L1354.9 503.3 L1358.4 502.9 L1361.8 502.4 L1365.3 501.8 L1368.7 501.2 L1372.2 500.5 L1375.9 500.0 L1379.8 499.6 L1383.1 499.4 L1386.7 499.3 L1390.4 499.3 L1394.3 499.3 L1398.2 499.4 L1402.1 499.5 L1406.0 499.6 L1409.8 499.6 L1413.4 499.7 L1416.8 499.7 L1420.0 499.6 L1424.3 499.4 L1428.2 499.0 L1431.9 498.7 L1435.7 498.3 L1439.8 498.1 L1443.4 498.0 L1447.4 497.9 L1451.4 497.9 L1455.6 497.8 L1459.8 497.9 L1463.9 497.9 L1467.8 498.0 L1471.4 498.1 L1475.6 498.3 L1479.5 498.7 L1483.3 499.0 L1487.1 499.3 L1491.1 499.6 L1495.0 499.7 L1499.0 499.7 L1503.2 499.7 L1507.3 499.7 L1511.2 499.8 L1514.9 500.0 L1519.2 500.4 L1523.4 500.9 L1527.2 501.6 L1530.7 502.4 L1533.6 503.3 L1536.2 504.3 L1538.6 505.6 L1541.2 507.4 L1543.6 509.5 L1545.7 511.9 L1547.3 514.6 L1548.6 517.6 L1549.6 520.6 L1550.3 523.7 L1550.8 526.9 L1551.2 530.1 L1551.4 533.2 L1551.6 536.3 L1552.0 539.6 L1552.7 542.8 L1553.7 546.1 L1554.8 549.5 L1556.0 553.0 L1557.1 556.3 L1558.4 559.8 L1559.7 563.4 L1561.0 566.8 L1562.3 570.0 L1563.7 573.0 L1565.0 575.6 L1566.4 578.4 L1567.7 581.7 L1568.7 584.7 L1569.7 588.1 L1570.6 591.8 L1571.6 595.6 L1572.5 599.6 L1573.4 603.6 L1574.2 607.6 L1575.1 611.5 L1575.9 615.0 L1576.6 618.6 L1577.3 622.1 L1578.0 625.7 L1578.6 629.3 L1579.3 633.0 L1580.0 636.6 L1580.7 640.2 L1581.4 643.9 L1582.2 647.7 L1583.0 651.5 L1583.9 655.4 L1584.8 659.3 L1585.6 663.2 L1586.5 667.0 L1587.3 670.9 L1588.1 674.8 L1588.8 678.7 L1589.5 682.6 L1590.1 686.4 L1590.7 690.3 L1591.3 694.2 L1591.8 698.1 L1592.3 702.0 L1592.8 705.8 L1593.3 709.7 L1593.8 713.6 L1594.3 717.5 L1594.7 721.4 L1595.2 725.4 L1595.6 729.3 L1596.0 733.2 L1596.4 737.1 L1596.8 741.0 L1597.2 744.7 L1597.5 748.4 L1597.8 752.3 L1598.1 756.1 L1598.4 759.8 L1598.6 763.4 L1598.9 767.1 L1599.2 771.0 L1599.5 775.0 L1599.8 778.6 L1600.2 782.3 L1600.5 786.1 L1600.9 790.0 L1601.3 793.9 L1601.7 797.9 L1602.1 802.0 L1602.5 806.2 L1602.9 810.5 L1603.2 814.8 L1603.5 818.4 L1603.7 822.2 L1603.9 826.0 L1604.1 829.9 L1604.4 833.8 L1604.6 837.8 L1604.8 841.9 L1605.0 846.0 L1605.2 850.1 L1605.3 854.2 L1605.5 858.3 L1605.7 862.4 L1605.9 866.5 L1606.0 870.6 L1606.2 874.6 L1606.4 878.6 L1606.5 882.6 L1606.7 886.5 L1606.8 890.5 L1607.0 894.5 L1607.1 898.5 L1607.3 902.5 L1607.4 906.4 L1607.5 910.4 L1607.6 914.4 L1607.8 918.4 L1607.9 922.4 L1608.0 926.3 L1608.1 930.3 L1608.2 934.3 L1608.3 938.3 L1608.4 942.2 L1608.5 946.1 L1608.5 950.0 L1608.6 953.9 L1608.7 957.7 L1608.7 961.6 L1608.8 965.5 L1608.9 969.5 L1608.9 973.4 L1609.0 977.4 L1609.0 981.5 L1609.1 985.6 L1609.1 989.8 L1609.2 994.0 L1609.3 997.6 L1609.3 1001.2 L1609.4 1004.8 L1609.4 1008.5 L1609.5 1012.2 L1609.5 1015.9 L1609.6 1019.7 L1609.6 1023.5 L1609.7 1027.3 L1609.7 1031.1 L1609.8 1035.0 L1609.8 1038.9 L1609.9 1042.8 L1609.9 1046.8 L1610.0 1050.7 L1610.0 1054.7 L1610.1 1058.7 L1610.1 1062.8 L1610.1 1066.8 L1610.2 1070.9 L1610.2 1075.0 L1610.2 1078.7 L1610.3 1082.3 L1610.3 1086.1 L1610.3 1089.8 L1610.3 1093.6 L1610.3 1097.4 L1610.3 1101.2 L1610.4 1105.1 L1610.4 1109.0 L1610.4 1112.8 L1610.4 1116.8 L1610.4 1120.7 L1610.4 1124.6 L1610.4 1128.6 L1610.4 1132.5 L1610.4 1136.5 L1610.4 1140.5 L1610.5 1144.4 L1610.5 1148.4 L1610.5 1152.4 L1610.5 1156.3 L1610.5 1160.3 L1610.5 1164.3 L1610.5 1168.2 L1610.5 1172.2 L1610.5 1176.1 L1610.5 1180.0 L1610.5 1183.9 L1610.5 1187.9 L1610.5 1191.8 L1610.5 1195.8 L1610.5 1199.8 L1610.5 1203.7 L1610.5 1207.7 L1610.5 1211.6 L1610.5 1215.6 L1610.5 1219.6 L1610.5 1223.5 L1610.5 1227.5 L1610.5 1231.5 L1610.5 1235.4 L1610.5 1239.4 L1610.5 1243.4 L1610.5 1247.3 L1610.5 1251.3 L1610.5 1255.3 L1610.5 1259.2 L1610.5 1263.2 L1610.5 1267.2 L1610.5 1271.1 L1610.5 1275.1 L1610.5 1279.1 L1610.5 1283.0 L1610.5 1287.0 L1642.0 1287.0" stroke="#008080"/>
<path d="M351.0 1287.0 L358.5 1287.0 L359.8 1285.2 L361.0 1283.0 L361.9 1280.5 L362.7 1277.5 L363.6 1274.0 L364.5 1270.1 L365.6 1265.7 L366.3 1263.0 L367.1 1260.0 L367.9 1256.8 L368.8 1253.4 L369.7 1249.8 L370.6 1246.0 L371.6 1242.2 L372.6 1238.2 L373.6 1234.1 L374.7 1229.9 L375.8 1225.6 L376.9 1221.4 L378.0 1217.1 L379.1 1212.7 L380.2 1208.5 L381.3 1204.2 L382.4 1200.0 L383.3 1196.5 L384.3 1192.9 L385.2 1189.2 L386.2 1185.4 L387.2 1181.5 L388.3 1177.6 L389.3 1173.7 L390.4 1169.7 L391.4 1165.7 L392.5 1161.7 L393.5 1157.7 L394.6 1153.6 L395.7 1149.6 L396.8 1145.7 L397.8 1141.7 L398.9 1137.9 L399.9 1134.0 L400.9 1130.3 L401.9 1126.6 L402.9 1123.1 L403.9 1119.6 L404.9 1116.3 L405.8 1113.1 L406.7 1110.0 L408.0 1105.7 L409.2 1101.6 L410.4 1097.8 L411.5 1094.0 L412.7 1090.4 L413.8 1086.9 L414.9 1083.5 L416.1 1080.1 L417.3 1076.6 L418.5 1073.1 L419.7 1069.5 L421.0 1065.8 L422.3 1062.2 L423.6 1058.5 L424.9 1054.9 L426.3 1051.2 L427.7 1047.6 L429.0 1043.9 L430.4 1040.3 L431.8 1036.7 L433.2 1033.2 L434.6 1029.7 L436.1 1026.1 L437.5 1022.6 L439.0 1019.0 L440.5 1015.5 L442.0 1012.1 L443.5 1008.6 L445.0 1005.2 L446.5 1001.7 L448.0 998.3 L449.5 994.8 L451.0 991.3 L452.5 987.8 L453.9 984.3 L455.4 980.9 L456.8 977.4 L458.3 973.9 L459.8 970.4 L461.3 966.9 L462.8 963.5 L464.4 960.0 L466.0 956.5 L467.6 953.1 L469.2 949.7 L470.9 946.3 L472.6 942.9 L474.2 939.5 L476.0 936.0 L477.7 932.4 L479.4 928.8 L481.2 925.0 L482.6 921.8 L484.1 918.5 L485.5 915.2 L487.0 911.7 L488.4 908.1 L489.9 904.5 L491.4 900.9 L492.9 897.3 L494.4 893.7 L496.0 890.1 L497.6 886.6 L499.2 883.2 L500.8 879.8 L502.5 876.6 L504.2 873.5 L506.3 870.0 L508.5 866.5 L510.7 863.2 L513.0 860.0 L515.4 856.8 L517.7 853.7 L520.1 850.6 L522.4 847.6 L524.7 844.6 L526.9 841.7 L529.1 838.7 L531.4 835.5 L533.5 832.4 L535.6 829.3 L537.7 826.3 L539.8 823.2 L542.0 820.3 L544.2 817.3 L546.5 814.3 L549.0 811.3 L551.4 808.5 L554.0 805.8 L556.6 803.0 L559.4 800.3 L562.2 797.5 L565.0 794.8 L567.9 792.1 L570.7 789.4 L573.5 786.7 L576.3 784.1 L578.9 781.5 L581.8 778.6 L584.6 775.8 L587.3 773.0 L590.1 770.2 L592.8 767.4 L595.5 764.7 L598.3 762.0 L601.0 759.3 L603.8 756.6 L606.5 754.0 L609.2 751.4 L611.9 748.9 L614.5 746.3 L617.2 743.8 L620.0 741.3 L622.8 738.9 L625.7 736.5 L628.7 734.2 L631.7 732.1 L634.8 730.0 L638.1 728.0 L641.4 726.0 L644.7 724.1 L648.0 722.2 L651.4 720.2 L654.7 718.3 L657.9 716.3 L661.0 714.3 L664.2 712.1 L667.2 709.8 L670.3 707.5 L673.2 705.2 L676.2 702.9 L679.2 700.6 L682.2 698.4 L685.3 696.3 L688.4 694.3 L691.6 692.4 L694.8 690.7 L698.1 689.1 L701.4 687.5 L704.7 686.0 L708.1 684.4 L711.5 682.8 L714.9 681.2 L718.3 679.4 L721.4 677.7 L724.6 675.9 L727.8 674.1 L731.0 672.1 L734.3 670.2 L737.5 668.3 L740.7 666.4 L743.9 664.5 L747.1 662.7 L750.1 661.1 L753.1 659.5 L756.8 657.6 L760.5 655.9 L764.0 654.2 L767.5 652.7 L771.0 651.2 L774.5 649.7 L778.0 648.3 L781.5 647.0 L785.1 645.8 L788.6 644.6 L792.2 643.5 L795.8 642.3 L799.3 641.1 L802.9 639.6 L806.3 638.0 L809.7 636.3 L813.1 634.4 L816.5 632.5 L819.9 630.5 L823.3 628.6 L826.6 626.8 L830.0 625.2 L833.5 623.6 L837.0 622.0 L840.5 620.6 L844.0 619.2 L847.5 617.8 L851.1 616.5 L854.9 615.3 L858.3 614.3 L861.7 613.5 L865.2 612.7 L868.8 612.0 L872.5 611.3 L876.1 610.6 L879.8 609.8 L883.5 608.9 L887.2 607.8 L890.5 606.7 L893.9 605.4 L897.3 604.0 L900.7 602.6 L904.1 601.1 L907.5 599.6 L910.9 598.1 L914.4 596.6 L917.8 595.3 L921.2 594.0 L924.6 592.9 L928.5 591.8 L932.5 590.9 L936.5 590.0 L940.4 589.3 L944.4 588.6 L948.3 587.9 L952.1 587.1 L955.8 586.3 L959.4 585.4 L963.1 584.3 L966.6 583.0 L969.9 581.8 L973.2 580.5 L976.6 579.2 L980.3 577.9 L984.3 576.7 L987.5 575.9 L990.9 575.0 L994.5 574.2 L998.2 573.4 L1002.1 572.6 L1006.1 571.8 L1010.1 571.0 L1014.2 570.2 L1018.2 569.5 L1022.2 568.7 L1026.0 567.9 L1029.7 567.1 L1033.3 566.3 L1036.6 565.5 L1040.7 564.4 L1044.5 563.2 L1048.1 562.1 L1051.6 560.9 L1055.1 559.8 L1058.7 558.7 L1062.4 557.7 L1066.4 556.8 L1069.8 556.2 L1073.4 555.7 L1077.0 555.2 L1080.8 554.9 L1084.6 554.5 L1088.5 554.2 L1092.4 553.9 L1096.2 553.6 L1100.1 553.2 L1103.9 552.8 L1107.6 552.4 L1111.2 551.8 L1115.1 551.1 L1118.9 550.2 L1122.6 549.4 L1126.3 548.4 L1130.0 547.5 L1133.6 546.5 L1137.3 545.6 L1141.0 544.7 L1144.8 543.8 L1148.6 543.1 L1152.3 542.5 L1156.1 541.9 L1160.0 541.4 L1163.9 540.9 L1167.8 540.5 L1171.7 540.1 L1175.6 539.7 L1179.5 539.3 L1183.3 538.9 L1187.1 538.5 L1190.9 538.1 L1194.7 537.7 L1198.4 537.3 L1202.0 536.9 L1205.5 536.6 L1209.1 536.2 L1212.7 535.9 L1216.4 535.5 L1220.2 535.2 L1224.1 534.8 L1228.2 534.4 L1231.7 534.1 L1235.3 533.7 L1239.1 533.3 L1243.0 533.0 L1246.9 532.6 L1251.0 532.2 L1255.1 531.8 L1259.2 531.4 L1263.3 531.0 L1267.4 530.6 L1271.5 530.3 L1275.5 529.9 L1279.4 529.6 L1283.2 529.3 L1286.9 529.1 L1290.4 528.9 L1294.7 528.7 L1298.8 528.6 L1302.8 528.5 L1306.7 528.5 L1310.5 528.5 L1314.3 528.5 L1318.1 528.5 L1321.9 528.4 L1325.9 528.4 L1330.0 528.2 L1333.7 528.0 L1337.4 527.8 L1341.2 527.6 L1345.1 527.3 L1349.0 527.1 L1352.9 526.8 L1356.9 526.5 L1360.8 526.2 L1364.7 525.8 L1368.6 525.5 L1372.4 525.1 L1376.1 524.8 L1379.8 524.4 L1383.6 524.0 L1387.4 523.5 L1391.1 522.9 L1394.8 522.4 L1398.4 521.8 L1402.0 521.2 L1405.6 520.7 L1409.2 520.2 L1412.8 519.7 L1416.4 519.3 L1420.0 519.0 L1424.1 518.8 L1428.3 518.7 L1432.6 518.7 L1436.9 518.7 L1441.2 518.8 L1445.4 518.8 L1449.4 518.9 L1453.1 518.9 L1456.5 518.8 L1459.5 518.6 L1462.9 518.2 L1465.8 517.7 L1468.5 517.2 L1471.4 516.6 L1474.3 515.9 L1477.3 515.2 L1480.4 514.4 L1483.7 513.6 L1487.2 513.1 L1490.8 512.8 L1494.6 512.6 L1498.6 512.6 L1502.8 512.6 L1506.9 512.7 L1511.0 512.7 L1514.9 512.7 L1519.0 512.7 L1523.1 512.7 L1527.2 512.8 L1531.1 512.8 L1535.0 512.6 L1538.6 512.3 L1542.0 511.7 L1545.3 511.0 L1548.4 510.2 L1551.4 509.4 L1554.4 508.7 L1558.3 507.9 L1562.0 507.3 L1566.2 506.8 L1569.6 506.6 L1573.5 506.5 L1577.6 506.5 L1581.9 506.5 L1586.2 506.6 L1590.2 506.8 L1593.8 507.0 L1597.9 507.4 L1601.7 507.9 L1605.3 508.5 L1609.0 509.0 L1611.7 510.8 L1614.3 512.6 L1617.0 515.0 L1619.0 517.2 L1621.0 519.7 L1623.0 522.4 L1625.0 525.4 L1626.9 528.6 L1628.7 531.9 L1630.2 535.2 L1631.5 538.8 L1632.7 542.7 L1633.8 546.7 L1635.0 550.6 L1636.1 554.6 L1637.3 558.3 L1638.6 561.8 L1640.2 565.3 L1641.8 568.5 L1643.4 571.6 L1645.1 574.7 L1646.9 578.0 L1648.6 581.7 L1649.9 584.6 L1651.2 587.7 L1652.6 590.9 L1654.0 594.2 L1655.4 597.7 L1656.8 601.2 L1658.2 604.7 L1659.6 608.3 L1661.0 611.9 L1662.3 615.5 L1663.5 619.0 L1664.6 622.4 L1665.7 625.9 L1666.8 629.4 L1667.8 633.0 L1668.8 636.6 L1669.8 640.2 L1670.8 643.8 L1671.8 647.4 L1672.8 651.0 L1673.8 654.5 L1674.8 657.9 L1675.9 661.3 L1677.1 664.9 L1678.4 668.5 L1679.7 672.1 L1681.0 675.6 L1682.4 679.0 L1683.7 682.5 L1685.0 685.9 L1686.2 689.3 L1687.3 692.8 L1688.4 696.2 L1689.4 699.8 L1690.4 703.3 L1691.3 706.8 L1692.1 710.3 L1692.9 713.8 L1693.6 717.3 L1694.4 720.9 L1695.1 724.6 L1695.9 728.5 L1696.6 732.1 L1697.2 735.8 L1697.9 739.6 L1698.5 743.5 L1699.1 747.4 L1699.7 751.4 L1700.3 755.4 L1700.9 759.5 L1701.4 763.4 L1702.1 767.4 L1702.7 771.2 L1703.3 775.0 L1704.0 778.7 L1704.6 782.4 L1705.3 786.1 L1706.1 789.7 L1706.8 793.3 L1707.5 796.9 L1708.2 800.4 L1708.8 804.0 L1709.5 807.6 L1710.1 811.2 L1710.7 814.8 L1711.3 818.4 L1711.8 822.0 L1712.3 825.6 L1712.8 829.3 L1713.2 832.9 L1713.7 836.5 L1714.1 840.1 L1714.5 843.7 L1714.9 847.4 L1715.3 851.0 L1715.7 854.6 L1716.1 858.2 L1716.4 861.8 L1716.7 865.5 L1717.0 869.1 L1717.3 872.7 L1717.5 876.4 L1717.8 880.0 L1718.0 883.6 L1718.3 887.2 L1718.5 890.9 L1718.7 894.5 L1718.9 898.4 L1719.1 902.3 L1719.3 906.2 L1719.5 910.0 L1719.7 913.9 L1719.8 917.8 L1719.9 921.8 L1720.1 925.8 L1720.2 930.0 L1720.3 934.3 L1720.4 937.9 L1720.4 941.6 L1720.5 945.3 L1720.5 949.1 L1720.6 953.0 L1720.6 956.9 L1720.6 960.8 L1720.6 964.8 L1720.6 968.9 L1720.7 973.0 L1720.7 977.1 L1720.7 981.3 L1720.7 985.5 L1720.7 989.7 L1720.7 994.0 L1720.7 997.6 L1720.7 1001.2 L1720.7 1004.8 L1720.7 1008.5 L1720.7 1012.2 L1720.7 1015.9 L1720.7 1019.7 L1720.7 1023.5 L1720.7 1027.3 L1720.7 1031.1 L1720.7 1035.0 L1720.7 1038.9 L1720.7 1042.8 L1720.7 1046.8 L1720.7 1050.7 L1720.7 1054.7 L1720.7 1058.7 L1720.7 1062.8 L1720.7 1066.8 L1720.7 1070.9 L1720.7 1075.0 L1720.7 1078.7 L1720.7 1082.3 L1720.7 1086.1 L1720.7 1089.8 L1720.7 1093.6 L1720.7 1097.4 L1720.7 1101.2 L1720.7 1105.1 L1720.8 1109.0 L1720.8 1112.8 L1720.8 1116.8 L1720.8 1120.7 L1720.8 1124.6 L1720.8 1128.6 L1720.8 1132.5 L1720.8 1136.5 L1720.8 1140.5 L1720.8 1144.4 L1720.8 1148.4 L1720.9 1152.4 L1720.9 1156.3 L1720.9 1160.3 L1720.9 1164.3 L1720.9 1168.2 L1720.9 1172.2 L1720.9 1176.1 L1720.9 1180.0 L1720.9 1183.9 L1720.9 1187.9 L1720.9 1191.8 L1720.9 1195.8 L1720.9 1199.8 L1720.9 1203.7 L1720.9 1207.7 L1720.9 1211.6 L1720.9 1215.6 L1720.9 1219.6 L1720.9 1223.5 L1720.9 1227.5 L1720.9 1231.5 L1720.9 1235.4 L1720.9 1239.4 L1720.9 1243.4 L1720.9 1247.3 L1720.9 1251.3 L1720.9 1255.3 L1720.9 1259.2 L1720.9 1263.2 L1720.9 1267.2 L1720.9 1271.1 L1720.9 1275.1 L1720.9 1279.1 L1720.9 1283.0 L1720.9 1287.0 L1735.3 1287.0" stroke="#ff00ff"/>
<path d="M356.0 1285.5 L361.8 1285.5 L362.3 1282.5 L362.9 1279.5 L363.4 1276.5 L363.9 1273.0 L364.2 1269.7 L364.5 1266.1 L364.7 1262.3 L364.9 1258.3 L365.1 1254.3 L365.3 1250.3 L365.5 1246.4 L365.7 1242.6 L366.0 1238.7 L366.2 1234.8 L366.4 1231.0 L366.7 1227.2 L366.9 1223.5 L367.2 1219.9 L367.5 1216.6 L367.8 1213.6 L368.2 1210.7 L368.5 1207.6 L368.9 1204.1 L369.2 1200.0 L369.4 1197.4 L369.6 1194.4 L369.8 1191.3 L369.9 1187.9 L370.1 1184.3 L370.3 1180.5 L370.5 1176.6 L370.7 1172.5 L370.9 1168.3 L371.1 1164.0 L371.3 1159.6 L371.5 1155.2 L371.6 1150.8 L371.8 1146.4 L372.0 1142.0 L372.2 1137.6 L372.4 1133.3 L372.6 1129.0 L372.7 1124.9 L372.9 1120.9 L373.1 1117.1 L373.2 1113.5 L373.4 1110.0 L373.6 1105.6 L373.8 1101.4 L374.0 1097.3 L374.2 1093.4 L374.4 1089.5 L374.6 1085.7 L374.8 1082.0 L375.0 1078.2 L375.2 1074.5 L375.4 1070.8 L375.5 1067.1 L375.7 1063.3 L375.9 1059.5 L376.1 1055.7 L376.2 1051.8 L376.4 1048.0 L376.5 1044.2 L376.7 1040.4 L376.8 1036.5 L376.9 1032.7 L377.1 1028.9 L377.2 1025.1 L377.4 1021.3 L377.5 1017.4 L377.7 1013.6 L377.9 1009.8 L378.1 1006.0 L378.3 1002.1 L378.6 998.3 L378.8 994.4 L379.1 990.5 L379.3 986.7 L379.6 982.8 L379.8 979.0 L380.1 975.1 L380.3 971.3 L380.6 967.5 L380.8 963.7 L381.0 960.0 L381.2 956.2 L381.4 952.4 L381.6 948.7 L381.8 945.0 L381.9 941.2 L382.1 937.6 L382.3 933.9 L382.4 930.2 L382.6 926.5 L382.8 922.8 L382.9 919.2 L383.1 915.5 L383.3 911.6 L383.5 907.6 L383.7 903.7 L383.9 899.8 L384.1 895.9 L384.3 892.0 L384.5 888.0 L384.7 884.1 L384.9 880.2 L385.1 876.3 L385.3 872.4 L385.5 868.5 L385.7 864.6 L386.0 860.6 L386.2 856.7 L386.5 852.8 L386.7 848.9 L386.9 845.0 L387.2 841.1 L387.4 837.1 L387.7 833.2 L387.9 829.3 L388.1 825.4 L388.4 821.5 L388.6 817.5 L388.8 813.6 L389.1 809.7 L389.3 805.8 L389.6 801.9 L389.8 798.0 L390.0 794.0 L390.3 790.1 L390.5 786.2 L390.7 782.3 L391.0 778.3 L391.2 774.4 L391.5 770.5 L391.7 766.5 L391.9 762.6 L392.2 758.7 L392.4 754.7 L392.6 750.8 L392.9 747.0 L393.1 743.1 L393.3 739.4 L393.5 735.6 L393.7 731.9 L393.9 728.2 L394.1 724.5 L394.3 720.8 L394.5 717.1 L394.7 713.5 L394.9 709.9 L395.1 706.4 L395.3 703.0 L395.5 699.0 L395.8 695.1 L396.0 691.3 L396.2 687.6 L396.5 683.8 L396.7 680.1 L396.9 676.3 L397.2 672.4 L397.4 668.7 L397.7 664.9 L398.0 661.1 L398.2 657.2 L398.5 653.3 L398.8 649.5 L399.0 645.6 L399.3 641.7 L399.6 637.9 L399.9 634.1 L400.2 630.2 L400.5 626.4 L400.8 622.6 L401.1 618.7 L401.4 614.9 L401.7 611.1 L402.0 607.2 L402.3 603.4 L402.6 599.6 L402.9 595.8 L403.2 591.9 L403.5 588.1 L403.9 584.3 L404.2 580.5 L404.5 576.6 L404.9 572.8 L405.2 569.0 L405.6 565.2 L405.9 561.3 L406.3 557.5 L406.6 553.7 L407.0 549.8 L407.4 546.0 L407.8 542.2 L408.2 538.3 L408.6 534.5 L409.0 530.6 L409.5 526.7 L409.9 522.8 L410.4 518.9 L410.8 514.9 L411.3 511.1 L411.8 507.3 L412.2 503.6 L412.6 500.0 L413.0 496.3 L413.4 492.8 L413.8 489.5 L414.2 486.1 L414.6 482.7 L415.0 479.0 L415.4 475.1 L415.8 471.7 L416.1 468.2 L416.5 464.5 L416.9 460.6 L417.2 456.7 L417.6 452.7 L418.0 448.6 L418.4 444.6 L418.9 440.5 L419.3 436.5 L419.7 432.5 L420.2 428.6 L420.7 424.8 L421.1 421.1 L421.6 417.4 L422.1 413.6 L422.7 409.9 L423.2 406.2 L423.7 402.5 L424.2 398.8 L424.8 395.1 L425.3 391.4 L425.9 387.7 L426.4 384.0 L427.0 380.1 L427.5 376.1 L428.1 372.2 L428.7 368.3 L429.3 364.4 L429.9 360.5 L430.5 356.6 L431.1 352.7 L431.7 348.9 L432.3 345.1 L432.9 341.3 L433.5 337.5 L434.2 333.7 L434.8 330.0 L435.5 326.2 L436.1 322.5 L436.8 318.9 L437.5 315.2 L438.1 311.5 L438.8 307.8 L439.4 304.1 L440.0 300.4 L440.7 296.6 L441.3 292.9 L441.9 289.1 L442.5 285.4 L443.1 281.7 L443.7 277.9 L444.4 274.2 L445.0 270.4 L445.7 266.7 L446.4 262.9 L447.1 259.1 L447.8 255.3 L448.5 251.5 L449.2 247.7 L450.0 243.9 L450.7 240.2 L451.5 236.5 L452.3 232.9 L453.2 229.3 L454.2 225.4 L455.2 221.5 L456.3 217.8 L457.4 214.1 L458.5 210.4 L459.7 206.7 L460.8 203.1 L462.0 199.5 L463.1 196.0 L464.2 192.6 L465.4 189.2 L466.5 185.8 L467.7 182.4 L468.9 179.1 L470.2 175.8 L471.5 172.6 L473.0 169.2 L474.5 165.9 L476.1 162.7 L477.7 159.5 L479.4 156.3 L481.1 153.2 L482.9 150.2 L485.0 146.8 L487.2 143.4 L489.5 140.0 L491.9 136.8 L494.2 133.7 L496.5 130.8 L498.9 128.0 L501.3 125.3 L503.7 122.7 L506.1 120.3 L508.4 118.1 L511.5 115.3 L514.6 112.7 L517.4 110.6 L520.0 108.7 L522.4 107.8 L524.8 108.6 L526.8 110.6 L528.0 113.6 L528.7 117.5 L529.3 121.8 L529.7 125.0 L530.0 128.3 L530.2 131.9 L530.3 135.6 L530.5 139.7 L530.6 142.9 L530.7 146.2 L530.8 149.7 L530.8 153.4 L530.9 157.2 L530.9 161.0 L531.0 165.0 L531.0 169.0 L531.1 173.0 L531.1 177.1 L531.1 180.5 L531.2 184.0 L531.2 187.5 L531.3 191.1 L531.3 194.7 L531.4 198.4 L531.4 202.1 L531.4 205.8 L531.5 209.6 L531.5 213.4 L531.5 217.3 L531.6 221.3 L531.6 225.3 L531.6 229.3 L531.6 232.9 L531.6 236.5 L531.6 240.0 L531.6 243.6 L531.6 247.1 L531.6 250.7 L531.6 254.3 L531.6 258.0 L531.6 261.7 L531.6 265.5 L531.6 269.4 L531.6 273.3 L531.6 277.4 L531.6 281.6 L531.6 286.0 L531.6 290.5 L531.6 295.1 L531.6 300.0 L531.6 305.0 L531.6 307.9 L531.6 310.8 L531.6 313.7 L531.6 316.8 L531.6 319.8 L531.6 323.0 L531.6 326.2 L531.6 329.4 L531.6 332.7 L531.6 336.0 L531.6 339.4 L531.6 342.8 L531.7 346.3 L531.7 349.8 L531.7 353.4 L531.7 357.0 L531.7 360.7 L531.7 364.3 L531.7 368.1 L531.7 371.8 L531.7 375.7 L531.7 379.5 L531.7 383.4 L531.7 387.3 L531.7 391.2 L531.7 395.2 L531.8 399.2 L531.8 403.2 L531.8 407.3 L531.8 411.4 L531.8 415.5 L531.8 419.7 L531.8 423.8 L531.8 428.0 L531.8 432.2 L531.8 436.4 L531.8 440.7 L531.8 445.0 L531.9 449.2 L531.9 453.5 L531.9 457.9 L531.9 462.2 L531.9 466.5 L531.9 470.9 L531.9 475.3 L531.9 479.6 L531.9 484.0 L531.9 488.4 L531.9 492.8 L531.9 497.2 L531.9 501.6 L531.9 506.0 L532.0 510.4 L532.0 514.8 L532.0 519.2 L532.0 523.6 L532.0 528.1 L532.0 532.5 L532.0 536.9 L532.0 541.2 L532.0 545.6 L532.0 550.0 L532.0 553.6 L532.0 557.2 L532.0 560.8 L532.0 564.5 L532.0 568.2 L532.0 571.9 L532.0 575.6 L532.0 579.4 L532.0 583.2 L532.0 587.0 L532.0 590.8 L532.0 594.7 L532.0 598.6 L532.0 602.5 L532.0 606.4 L532.0 610.3 L532.0 614.3 L532.0 618.2 L532.0 622.2 L532.0 626.2 L532.0 630.3 L532.0 634.3 L532.0 638.4 L532.0 642.4 L532.0 646.5 L532.0 650.6 L532.0 654.7 L532.0 658.8 L532.0 663.0 L532.0 667.1 L532.0 671.3 L532.0 675.4 L532.0 679.6 L532.0 683.8 L532.0 687.9 L532.0 692.1 L532.0 696.3 L532.0 700.5 L532.0 704.7 L532.0 708.9 L532.0 713.2 L532.0 717.4 L532.0 721.6 L532.0 725.8 L532.0 730.0 L532.0 734.3 L532.0 738.5 L532.0 742.7 L532.0 746.9 L532.0 751.1 L531.9 755.4 L531.9 759.6 L531.9 763.8 L531.9 768.0 L531.9 772.2 L531.9 776.4 L531.9 780.6 L531.9 784.7 L531.9 788.9 L531.9 793.1 L531.9 797.2 L531.9 801.4 L531.9 805.5 L531.9 809.6 L531.9 813.7 L531.9 817.8 L531.9 821.9 L531.9 826.0 L531.9 830.0 L531.9 834.1 L532.0 838.1 L532.0 842.1 L532.0 846.1 L532.0 850.1 L532.0 854.0 L532.0 858.0 L532.0 861.9 L532.0 865.8 L532.0 869.7 L532.0 873.5 L532.0 877.4 L532.0 881.2 L532.0 885.0 L532.0 888.8 L532.0 892.5 L532.0 896.2 L532.0 899.9 L532.0 903.6 L532.0 907.2 L532.1 910.8 L532.1 914.4 L532.1 918.0 L532.1 921.5 L532.1 925.0 L532.1 929.4 L532.1 933.9 L532.1 938.3 L532.2 942.7 L532.2 947.0 L532.2 951.4 L532.2 955.7 L532.2 960.0 L532.3 964.3 L532.3 968.6 L532.3 972.9 L532.3 977.1 L532.4 981.3 L532.4 985.5 L532.4 989.7 L532.4 993.9 L532.5 998.1 L532.5 1002.2 L532.5 1006.3 L532.5 1010.4 L532.6 1014.5 L532.6 1018.6 L532.6 1022.6 L532.6 1026.7 L532.7 1030.7 L532.7 1034.7 L532.7 1038.7 L532.7 1042.6 L532.8 1046.6 L532.8 1050.5 L532.8 1054.4 L532.9 1058.3 L532.9 1062.2 L532.9 1066.0 L532.9 1069.9 L533.0 1073.7 L533.0 1077.5 L533.0 1081.3 L533.1 1085.1 L533.1 1088.8 L533.1 1092.6 L533.1 1096.3 L533.2 1100.0 L533.2 1103.7 L533.2 1107.3 L533.2 1111.0 L533.3 1114.6 L533.3 1118.2 L533.3 1121.8 L533.3 1125.4 L533.4 1129.0 L533.4 1132.5 L533.4 1136.1 L533.4 1139.6 L533.5 1143.1 L533.5 1146.5 L533.5 1150.0 L533.5 1154.3 L533.5 1158.6 L533.6 1162.9 L533.6 1167.1 L533.6 1171.2 L533.6 1175.3 L533.7 1179.4 L533.7 1183.4 L533.7 1187.4 L533.7 1191.3 L533.7 1195.3 L533.8 1199.1 L533.8 1203.0 L533.8 1206.9 L533.8 1210.7 L533.8 1214.5 L533.9 1218.2 L533.9 1222.0 L533.9 1225.8 L533.9 1229.5 L533.9 1233.2 L534.0 1237.0 L534.0 1240.7 L534.0 1244.4 L534.0 1248.1 L534.0 1251.9 L534.0 1255.6 L534.1 1259.3 L534.1 1263.1 L534.1 1266.9 L534.1 1270.7 L534.1 1274.5 L534.2 1278.3 L534.2 1282.1 L534.2 1286.0 L545.3 1286.0" stroke="#808000"/>
<path d="M351.0 1287.0 L366.5 1287.0 L366.8 1283.6 L367.2 1280.4 L367.5 1276.9 L367.9 1273.0 L368.2 1269.9 L368.5 1266.6 L368.9 1263.1 L369.2 1259.4 L369.6 1255.5 L370.0 1251.6 L370.4 1247.6 L370.8 1243.7 L371.2 1239.8 L371.6 1236.4 L371.9 1233.0 L372.3 1229.6 L372.7 1226.3 L373.1 1222.9 L373.5 1219.4 L373.9 1215.8 L374.4 1212.1 L374.8 1208.3 L375.3 1204.2 L375.8 1200.0 L376.2 1196.8 L376.6 1193.4 L377.0 1189.9 L377.4 1186.2 L377.9 1182.4 L378.3 1178.5 L378.8 1174.4 L379.3 1170.4 L379.8 1166.2 L380.3 1162.0 L380.8 1157.8 L381.3 1153.5 L381.8 1149.3 L382.3 1145.0 L382.8 1140.8 L383.3 1136.7 L383.8 1132.5 L384.2 1128.5 L384.7 1124.6 L385.2 1120.7 L385.6 1117.0 L386.1 1113.4 L386.5 1110.0 L387.0 1105.6 L387.6 1101.4 L388.1 1097.2 L388.6 1093.2 L389.1 1089.2 L389.6 1085.4 L390.1 1081.6 L390.6 1077.8 L391.1 1074.1 L391.6 1070.4 L392.0 1066.8 L392.5 1063.1 L393.0 1059.5 L393.5 1055.6 L394.0 1051.8 L394.5 1047.9 L395.0 1044.0 L395.5 1040.2 L395.9 1036.5 L396.4 1032.9 L396.9 1029.3 L397.4 1026.0 L397.8 1022.7 L398.3 1019.7 L399.0 1015.3 L399.6 1011.2 L400.2 1007.4 L400.9 1004.0 L401.8 1001.0 L403.7 997.4 L405.7 994.3 L407.3 996.8 L408.7 999.8 L409.3 1002.3 L409.7 1005.3 L410.0 1008.7 L410.3 1012.3 L410.5 1016.0 L410.7 1019.7 L410.9 1023.1 L411.1 1026.7 L411.2 1030.5 L411.3 1034.3 L411.4 1038.1 L411.5 1042.0 L411.6 1045.8 L411.7 1049.6 L411.8 1053.3 L411.9 1057.0 L412.0 1060.8 L412.1 1064.5 L412.3 1068.2 L412.3 1071.9 L412.4 1075.7 L412.5 1079.4 L412.5 1083.1 L412.6 1086.6 L412.6 1090.1 L412.6 1093.7 L412.6 1097.3 L412.6 1101.2 L412.6 1105.4 L412.7 1110.0 L412.8 1113.0 L412.8 1116.3 L412.9 1119.7 L413.0 1123.4 L413.1 1127.2 L413.2 1131.2 L413.4 1135.3 L413.5 1139.5 L413.6 1143.8 L413.8 1148.2 L413.9 1152.6 L414.1 1157.0 L414.2 1161.4 L414.4 1165.8 L414.5 1170.1 L414.7 1174.3 L414.8 1178.5 L415.0 1182.5 L415.1 1186.4 L415.2 1190.1 L415.4 1193.6 L415.5 1196.9 L415.6 1200.0 L415.8 1204.4 L415.9 1208.5 L416.1 1212.3 L416.2 1215.9 L416.4 1219.3 L416.6 1222.7 L416.7 1226.1 L416.9 1229.6 L417.0 1233.2 L417.2 1236.9 L417.3 1240.7 L417.5 1244.6 L417.6 1248.4 L417.8 1252.2 L417.9 1255.9 L418.1 1259.6 L418.2 1263.1 L418.3 1266.4 L418.4 1270.1 L418.4 1273.6 L418.5 1277.0 L418.5 1280.3 L418.6 1283.6 L418.6 1287.0 L429.6 1287.0" stroke="#000080"/>
</g>
<g>
<text x="169.3" y="1304.2" text-anchor="end">0</text>
<text x="169.3" y="1098.3" text-anchor="end">1</text>
<text x="169.3" y="892.4" text-anchor="end">2</text>
<text x="169.3" y="686.4" text-anchor="end">3</text>
<text x="169.3" y="480.5" text-anchor="end">4</text>
<text x="169.3" y="274.6" text-anchor="end">5</text>
<text x="169.3" y="68.7" text-anchor="end">6</text>
<text x="355.6" y="1373" text-anchor="middle">0.0</text>
<text x="1076.9" y="1373" text-anchor="middle">0.5</text>
<text x="1798.2" y="1373" text-anchor="middle">1.0</text>
<text x="542.0" y="350.2">5% GO-TBPU</text>
<text x="1714.5" y="660.2">2.0%</text>
<text x="1714.5" y="732.4">GO-TBPU</text>
<text x="1147.0" y="1011.8">TBPU</text>
<text x="768.0" y="1230.7">PU</text>
<text x="1616.5" y="1146.0">1.5% GO-TBPU</text>
<text x="1352.0" y="1257.4">0.5% GO-TBPU</text>
<text x="403.0" y="1351.8">10% GO-TBPU</text>
<text x="1078" y="1470.1" text-anchor="middle">Strain</text>
<text transform="translate(68.4 640) rotate(-90)" text-anchor="middle">Stress/MPa</text>
</g>
</svg>
</body></html>
